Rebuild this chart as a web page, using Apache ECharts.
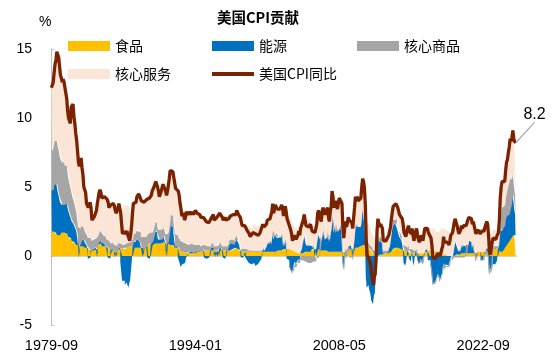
<!DOCTYPE html>
<html><head><meta charset="utf-8">
<script src="https://cdn.jsdelivr.net/npm/echarts@6/dist/echarts.min.js"></script>
<style>html,body{margin:0;padding:0;background:#fff}#c{width:558px;height:361px}</style>
</head><body><div id="c"></div>
<script>
// Monthly data, 1979-09 .. 2022-09 (517 months)
const startYear = 1979, startMonth = 9, monthCount = 517;
const tickLabels = ['1979-09', '1994-01', '2008-05', '2022-09'];
const yTicks = [-5, 0, 5, 10, 15];

// US CPI YoY (%)
const cpi = [
12.2,12.1,12.6,13.3,
13.9,14.2,14.8,14.7,14.4,14.4,13.1,12.9,12.6,12.8,12.6,12.5,
11.8,11.4,10.5,10.0,9.8,9.6,10.8,10.8,11.0,10.1,9.6,8.9,
8.4,7.6,6.8,6.5,6.7,7.1,6.4,5.9,5.0,5.1,4.6,3.8,
3.7,3.5,3.6,3.9,3.5,2.6,2.5,2.6,2.9,2.9,3.3,3.8,
4.2,4.6,4.8,4.6,4.2,4.2,4.2,4.3,4.3,4.3,4.1,3.9,
3.5,3.5,3.7,3.7,3.8,3.8,3.6,3.3,3.1,3.2,3.5,3.8,
3.9,3.1,2.3,1.6,1.5,1.8,1.6,1.6,1.8,1.5,1.3,1.1,
1.5,2.1,3.0,3.8,3.9,3.7,3.9,4.3,4.4,4.5,4.5,4.4,
4.0,3.9,3.9,3.9,3.9,4.0,4.1,4.0,4.2,4.2,4.2,4.4,
4.7,4.8,5.0,5.1,5.4,5.2,5.0,4.7,4.3,4.5,4.7,4.6,
5.2,5.3,5.2,4.7,4.4,4.7,4.8,5.6,6.2,6.3,6.3,6.1,
5.7,5.3,4.9,4.9,5.0,4.7,4.4,3.8,3.4,2.9,3.0,3.1,
2.6,2.8,3.2,3.2,3.0,3.1,3.2,3.1,3.0,3.2,3.0,2.9,
3.3,3.2,3.1,3.2,3.2,3.0,2.8,2.8,2.7,2.8,2.7,2.7,
2.5,2.5,2.5,2.4,2.3,2.5,2.8,2.9,3.0,2.6,2.7,2.7,
2.8,2.9,2.9,3.1,3.2,3.0,2.8,2.6,2.5,2.8,2.6,2.5,
2.7,2.7,2.8,2.9,2.9,2.8,3.0,2.9,3.0,3.0,3.3,3.3,
3.0,3.0,2.8,2.5,2.2,2.3,2.2,2.2,2.2,2.1,1.8,1.7,
1.6,1.4,1.4,1.4,1.7,1.7,1.7,1.6,1.5,1.5,1.5,1.6,
1.7,1.6,1.7,2.3,2.1,2.0,2.1,2.3,2.6,2.6,2.6,2.7,
2.7,3.2,3.8,3.1,3.2,3.7,3.7,3.4,3.5,3.4,3.4,3.4,
3.7,3.5,2.9,3.3,3.6,3.2,2.7,2.7,2.6,2.1,1.9,1.6,
1.1,1.1,1.5,1.6,1.2,1.1,1.5,1.8,1.5,2.0,2.2,2.4,
2.6,3.0,3.0,2.2,2.1,2.1,2.1,2.2,2.3,2.0,1.8,1.9,
1.9,1.7,1.7,2.3,3.1,3.3,3.0,2.7,2.5,3.2,3.5,3.3,
3.0,3.0,3.1,3.5,2.8,2.5,3.2,3.6,4.7,4.3,3.5,3.4,
4.0,3.6,3.4,3.5,4.2,4.3,4.1,3.8,2.1,1.3,2.0,2.5,
2.1,2.4,2.8,2.6,2.7,2.7,2.4,2.0,2.8,3.5,4.3,4.1,
4.3,4.0,4.0,3.9,4.2,5.0,5.6,5.4,4.9,3.7,1.1,0.1,
0.0,0.2,-0.4,-0.7,-1.3,-1.4,-2.1,-1.5,-1.3,-0.2,1.8,2.7,
2.6,2.1,2.3,2.2,2.0,1.1,1.2,1.1,1.1,1.2,1.1,1.5,
1.6,2.1,2.7,3.2,3.6,3.6,3.6,3.8,3.9,3.5,3.4,3.0,
2.9,2.9,2.7,2.3,1.7,1.7,1.4,1.7,2.0,2.2,1.8,1.7,
1.6,2.0,1.5,1.1,1.4,1.8,2.0,1.5,1.2,1.0,1.2,1.5,
1.6,1.1,1.5,2.0,2.1,2.1,2.0,1.7,1.7,1.7,1.3,0.8,
-0.1,0.0,-0.1,-0.2,0.0,0.1,0.2,0.2,0.0,0.2,0.5,0.7,
1.4,1.0,0.9,1.1,1.0,1.0,0.8,1.1,1.5,1.6,1.7,2.1,
2.5,2.7,2.4,2.2,1.9,1.6,1.7,1.9,2.2,2.0,2.2,2.1,
2.1,2.2,2.4,2.5,2.8,2.9,2.9,2.7,2.3,2.5,2.2,1.9,
1.6,1.5,1.9,2.0,1.8,1.6,1.8,1.7,1.7,1.8,2.1,2.3,
2.5,2.3,1.5,0.3,0.1,0.6,1.0,1.3,1.4,1.2,1.2,1.4,
1.4,1.7,2.6,4.2,5.0,5.4,5.4,5.3,5.4,6.2,6.8,7.0,
7.5,7.9,8.5,8.3,8.6,9.1,8.5,8.3,8.2
];

// contribution of food (pp)
const food = [
1.7,1.7,1.8,1.8,
1.7,1.6,1.6,1.5,1.5,1.5,1.6,1.7,1.7,1.8,1.8,1.7,
1.6,1.6,1.5,1.4,1.3,1.3,1.2,1.1,1.0,1.0,0.9,0.8,
0.8,0.8,0.8,0.7,0.7,0.7,0.7,0.7,0.7,0.7,0.6,0.6,
0.6,0.5,0.5,0.5,0.4,0.4,0.4,0.4,0.4,0.5,0.5,0.7,
0.8,0.9,0.9,0.8,0.7,0.7,0.7,0.7,0.7,0.6,0.6,0.6,
0.5,0.4,0.4,0.4,0.4,0.3,0.3,0.3,0.3,0.3,0.4,0.4,
0.5,0.5,0.5,0.5,0.5,0.5,0.6,0.6,0.6,0.6,0.7,0.7,
0.7,0.7,0.7,0.7,0.7,0.6,0.6,0.6,0.6,0.6,0.6,0.6,
0.6,0.6,0.6,0.6,0.6,0.6,0.7,0.8,0.8,0.9,0.9,0.9,
0.8,0.8,0.9,0.9,0.9,0.9,0.9,0.9,0.9,0.9,0.9,0.9,
1.0,1.0,0.9,0.9,0.9,0.9,0.9,0.8,0.8,0.8,0.8,0.8,
0.7,0.6,0.6,0.6,0.6,0.6,0.5,0.4,0.3,0.3,0.3,0.3,
0.2,0.2,0.2,0.2,0.2,0.2,0.2,0.2,0.2,0.2,0.2,0.2,
0.2,0.2,0.2,0.3,0.3,0.3,0.3,0.3,0.4,0.4,0.4,0.4,
0.4,0.4,0.4,0.4,0.4,0.4,0.4,0.4,0.4,0.4,0.4,0.4,
0.4,0.4,0.4,0.4,0.4,0.4,0.4,0.4,0.4,0.4,0.4,0.4,
0.4,0.4,0.4,0.4,0.4,0.4,0.5,0.5,0.6,0.6,0.6,0.6,
0.5,0.4,0.4,0.3,0.3,0.3,0.3,0.3,0.3,0.3,0.3,0.3,
0.3,0.3,0.3,0.3,0.3,0.3,0.3,0.3,0.3,0.3,0.3,0.3,
0.3,0.3,0.3,0.3,0.3,0.3,0.3,0.3,0.3,0.3,0.3,0.3,
0.3,0.3,0.3,0.3,0.3,0.3,0.3,0.3,0.4,0.4,0.4,0.4,
0.4,0.4,0.4,0.5,0.5,0.5,0.5,0.5,0.5,0.5,0.5,0.4,
0.4,0.4,0.3,0.3,0.3,0.3,0.2,0.2,0.2,0.2,0.2,0.2,
0.2,0.2,0.2,0.3,0.3,0.3,0.3,0.3,0.3,0.4,0.5,0.5,
0.5,0.5,0.5,0.5,0.5,0.5,0.5,0.5,0.4,0.4,0.4,0.4,
0.4,0.4,0.4,0.4,0.3,0.3,0.3,0.3,0.3,0.3,0.3,0.3,
0.3,0.3,0.3,0.3,0.3,0.3,0.3,0.3,0.3,0.3,0.3,0.3,
0.4,0.4,0.4,0.5,0.5,0.5,0.5,0.6,0.6,0.6,0.6,0.6,
0.6,0.6,0.6,0.7,0.7,0.7,0.8,0.8,0.8,0.8,0.8,0.8,
0.7,0.6,0.5,0.4,0.3,0.2,0.1,0.0,0.0,0.0,0.0,0.0,
0.0,0.0,0.1,0.1,0.1,0.1,0.1,0.1,0.2,0.2,0.2,0.2,
0.2,0.3,0.4,0.4,0.5,0.5,0.5,0.6,0.6,0.6,0.6,0.6,
0.6,0.5,0.5,0.4,0.4,0.4,0.3,0.3,0.3,0.2,0.2,0.2,
0.2,0.2,0.2,0.2,0.2,0.2,0.2,0.2,0.2,0.2,0.2,0.2,
0.2,0.2,0.2,0.2,0.3,0.3,0.3,0.4,0.4,0.4,0.4,0.4,
0.4,0.4,0.4,0.4,0.3,0.3,0.3,0.2,0.2,0.2,0.2,0.1,
0.1,0.1,0.1,0.1,0.1,0.0,0.0,0.0,0.0,0.0,0.0,0.0,
0.0,0.0,0.1,0.1,0.1,0.1,0.1,0.2,0.2,0.2,0.2,0.2,
0.2,0.2,0.2,0.2,0.2,0.2,0.2,0.2,0.2,0.2,0.2,0.2,
0.2,0.3,0.3,0.3,0.3,0.3,0.3,0.3,0.3,0.3,0.3,0.3,
0.3,0.3,0.3,0.5,0.6,0.6,0.6,0.6,0.5,0.5,0.5,0.5,
0.5,0.4,0.5,0.3,0.3,0.3,0.5,0.5,0.6,0.7,0.8,0.9,
1.0,1.1,1.2,1.3,1.4,1.4,1.5,1.6,1.5
];

// contribution of energy (pp)
const energy = [
3.1,3.0,3.1,3.4,
3.5,3.6,3.6,3.3,3.0,2.7,2.3,2.2,2.0,2.0,2.0,2.0,
2.1,2.2,2.1,1.9,1.8,1.6,1.5,1.4,1.4,1.3,1.3,1.2,
1.0,0.6,0.0,-0.2,0.1,0.4,0.5,0.5,0.4,0.4,0.3,0.2,
0.1,-0.2,-0.3,-0.1,0.0,0.0,0.1,0.1,0.2,0.1,0.1,-0.1,
0.0,0.1,0.3,0.3,0.3,0.2,0.2,0.2,0.1,0.1,0.0,-0.1,
-0.2,-0.2,0.0,0.1,0.1,0.1,0.0,-0.1,-0.1,0.0,0.1,0.2,
0.1,-0.4,-1.1,-1.8,-1.9,-1.8,-2.1,-2.1,-1.9,-2.1,-2.3,-2.3,
-1.7,-1.0,-0.2,0.4,0.5,0.4,0.5,0.6,0.5,0.5,0.4,0.3,
0.0,0.0,-0.1,0.0,0.0,0.0,0.0,-0.1,-0.1,-0.2,-0.1,0.0,
0.2,0.3,0.5,0.9,1.0,0.8,0.6,0.3,0.2,0.3,0.4,0.3,
0.6,0.5,0.3,0.0,-0.1,0.0,0.1,0.7,1.2,1.4,1.4,1.3,
1.0,0.5,0.1,0.0,0.1,-0.1,-0.2,-0.5,-0.8,-0.9,-0.6,-0.5,
-0.5,-0.4,-0.2,-0.1,0.0,0.1,0.1,0.1,0.1,0.1,0.1,0.0,
0.2,0.2,0.1,0.1,0.1,0.0,0.0,0.0,0.0,0.1,-0.1,-0.2,
-0.2,-0.2,-0.1,-0.1,-0.1,0.0,0.2,0.3,0.2,-0.1,0.0,-0.1,
0.0,-0.1,-0.1,0.1,0.3,0.2,0.0,-0.1,-0.1,-0.2,-0.2,0.0,
0.2,0.2,0.4,0.6,0.6,0.5,0.4,0.3,0.4,0.5,0.6,0.6,
0.5,0.4,0.1,-0.1,-0.2,-0.1,-0.1,0.0,-0.1,-0.1,-0.3,-0.4,
-0.5,-0.6,-0.6,-0.6,-0.5,-0.5,-0.6,-0.7,-0.7,-0.6,-0.6,-0.7,
-0.4,-0.4,-0.2,0.2,0.2,0.1,0.2,0.4,0.6,0.6,0.6,0.7,
0.5,1.0,1.6,0.9,1.0,1.4,1.4,1.0,1.0,0.9,0.9,0.9,
1.2,0.9,0.3,0.4,0.7,0.4,-0.2,-0.2,-0.3,-0.8,-1.0,-1.0,
-1.2,-1.1,-0.6,-0.4,-0.6,-0.7,-0.3,-0.2,-0.2,0.3,0.3,0.7,
1.0,1.5,1.5,0.6,0.4,0.6,0.4,0.6,0.6,0.3,0.1,0.3,
0.1,-0.1,-0.2,0.5,1.2,1.3,0.9,0.7,0.7,1.2,1.5,1.2,
0.8,0.9,1.0,1.4,0.8,0.7,1.3,1.6,2.6,2.3,1.4,1.3,
2.1,1.7,1.4,1.5,2.0,2.0,1.7,1.3,-0.3,-1.0,-0.4,0.3,
-0.2,0.1,0.3,0.2,0.3,0.3,0.1,-0.3,0.3,1.0,1.8,1.5,
1.8,1.5,1.5,1.4,1.6,2.3,2.6,2.1,1.7,0.8,-1.5,-2.3,
-2.4,-2.1,-2.5,-2.7,-3.2,-3.1,-3.5,-2.9,-2.7,-1.5,0.6,1.6,
1.5,1.0,1.1,1.0,0.8,0.1,0.2,0.1,0.0,0.1,0.1,0.4,
0.5,0.9,1.3,1.7,1.9,1.8,1.8,1.7,1.8,1.3,1.2,0.8,
0.7,0.7,0.5,0.2,-0.5,-0.5,-0.7,-0.3,0.0,0.3,-0.2,-0.3,
-0.4,0.1,-0.3,-0.7,-0.3,0.1,0.3,-0.2,-0.4,-0.6,-0.5,-0.2,
-0.1,-0.6,-0.2,0.2,0.2,0.2,0.1,-0.3,-0.3,-0.3,-0.7,-1.2,
-2.0,-1.9,-1.9,-2.0,-1.7,-1.5,-1.3,-1.5,-1.8,-1.7,-1.4,-1.2,
-0.5,-0.9,-0.9,-0.6,-0.7,-0.7,-0.8,-0.6,-0.2,0.0,-0.1,0.4,
0.8,1.1,0.8,0.7,0.4,0.2,0.2,0.4,0.7,0.4,0.7,0.5,
0.4,0.6,0.5,0.6,0.9,0.9,0.9,0.8,0.4,0.7,0.2,0.0,
-0.4,-0.4,0.0,0.1,0.0,-0.3,-0.2,-0.3,-0.4,-0.3,0.0,0.3,
0.4,0.2,-0.4,-1.2,-1.3,-0.9,-0.8,-0.6,-0.5,-0.6,-0.7,-0.5,
-0.3,0.2,0.8,1.5,1.7,1.5,1.5,1.6,1.6,2.0,2.2,2.0,
2.0,1.9,2.4,2.3,2.6,3.1,2.5,1.8,1.5
];

// contribution of core goods (pp)
const coreGoods = [
2.9,2.9,3.0,3.1,
3.1,3.2,3.2,3.3,3.3,3.3,3.2,3.1,3.1,3.0,3.0,2.9,
2.8,2.7,2.6,2.4,2.3,2.2,2.1,2.0,1.8,1.7,1.6,1.5,
1.4,1.3,1.3,1.3,1.2,1.1,1.0,0.9,0.9,0.8,0.8,0.8,
0.8,0.8,0.8,0.8,0.8,0.7,0.7,0.7,0.7,0.7,0.7,0.7,
0.7,0.7,0.7,0.7,0.7,0.7,0.6,0.6,0.6,0.6,0.6,0.6,
0.6,0.6,0.5,0.5,0.5,0.5,0.5,0.5,0.5,0.4,0.4,0.4,
0.4,0.4,0.4,0.3,0.3,0.3,0.3,0.3,0.3,0.3,0.3,0.3,
0.3,0.4,0.5,0.6,0.6,0.6,0.7,0.7,0.7,0.8,0.8,0.8,
0.8,0.8,0.8,0.8,0.8,0.8,0.8,0.8,0.8,0.8,0.8,0.8,
0.7,0.7,0.7,0.7,0.7,0.7,0.7,0.7,0.7,0.7,0.7,0.7,
0.7,0.7,0.7,0.7,0.7,0.7,0.7,0.7,0.7,0.8,0.8,0.8,
0.9,0.9,0.9,0.9,0.8,0.8,0.8,0.8,0.8,0.7,0.7,0.7,
0.7,0.7,0.7,0.7,0.6,0.6,0.6,0.6,0.6,0.6,0.6,0.6,
0.5,0.5,0.5,0.5,0.5,0.5,0.4,0.4,0.4,0.4,0.4,0.4,
0.3,0.3,0.3,0.3,0.3,0.3,0.3,0.3,0.3,0.3,0.3,0.3,
0.4,0.4,0.4,0.4,0.4,0.4,0.3,0.3,0.3,0.3,0.3,0.3,
0.3,0.3,0.3,0.3,0.3,0.3,0.3,0.3,0.3,0.3,0.3,0.3,
0.2,0.2,0.2,0.2,0.2,0.2,0.2,0.2,0.2,0.2,0.2,0.2,
0.1,0.1,0.1,0.1,0.1,0.1,0.1,0.1,0.1,0.1,0.1,0.1,
0.1,0.1,0.1,0.1,0.1,0.1,0.1,0.1,0.1,0.1,0.1,0.1,
0.1,0.1,0.1,0.1,0.1,0.1,0.1,0.1,0.1,0.1,0.1,0.1,
0.1,0.1,0.1,0.1,0.1,0.0,0.0,0.0,0.0,0.0,0.0,0.0,
-0.1,-0.1,-0.1,-0.2,-0.2,-0.2,-0.2,-0.2,-0.3,-0.3,-0.3,-0.3,
-0.3,-0.3,-0.4,-0.4,-0.4,-0.5,-0.5,-0.5,-0.5,-0.4,-0.4,-0.4,
-0.3,-0.3,-0.2,-0.2,-0.1,-0.1,-0.1,0.0,0.0,0.0,0.0,0.0,
0.0,0.0,0.0,0.1,0.1,0.1,0.1,0.1,0.1,0.1,0.1,0.1,
0.0,0.0,0.0,0.0,0.0,0.0,0.0,0.0,0.0,0.0,0.0,0.0,
0.0,0.0,0.0,0.0,-0.1,-0.1,-0.1,-0.1,0.0,0.0,0.0,0.0,
0.0,0.0,0.0,0.0,0.0,0.1,0.1,0.2,0.2,0.2,0.2,0.2,
0.3,0.3,0.3,0.3,0.4,0.4,0.3,0.4,0.4,0.4,0.3,0.3,
0.3,0.3,0.3,0.3,0.3,0.2,0.2,0.2,0.2,0.2,0.1,0.1,
0.1,0.1,0.1,0.2,0.2,0.3,0.3,0.4,0.4,0.4,0.4,0.4,
0.4,0.4,0.4,0.4,0.4,0.4,0.4,0.3,0.3,0.3,0.3,0.3,
0.3,0.3,0.2,0.2,0.1,0.1,0.1,0.1,0.0,0.0,0.0,0.0,
0.0,0.0,0.0,0.0,0.0,0.0,0.0,0.0,0.0,0.0,0.0,0.0,
-0.1,-0.1,-0.1,-0.1,-0.1,-0.1,-0.1,-0.1,-0.1,-0.1,-0.1,-0.1,
-0.1,-0.1,-0.1,-0.1,-0.1,-0.1,-0.1,-0.1,-0.1,-0.1,-0.2,-0.2,
-0.1,-0.1,-0.1,-0.1,-0.1,-0.1,-0.1,-0.1,-0.1,-0.1,-0.1,-0.1,
-0.1,-0.1,0.0,0.0,0.0,0.0,0.0,0.0,0.0,0.0,0.0,0.0,
0.0,0.0,0.0,0.0,0.0,0.0,0.0,0.0,0.0,0.0,0.0,0.0,
-0.1,0.0,-0.1,-0.2,-0.2,-0.1,-0.1,0.1,0.2,0.2,0.3,0.3,
0.2,0.1,0.2,0.8,1.3,1.7,1.6,1.5,1.5,1.6,1.8,2.0,
2.3,2.4,2.3,1.9,1.7,1.7,1.5,1.5,1.4
];

// contribution of core services (pp)
const coreServices = [
4.5,4.5,4.7,5.0,
5.6,5.8,6.4,6.6,6.6,6.9,6.0,5.9,5.8,6.0,5.8,5.9,
5.3,4.9,4.3,4.3,4.4,4.5,6.0,6.3,6.8,6.1,5.8,5.4,
5.2,4.9,4.7,4.7,4.7,4.9,4.2,3.8,3.0,3.2,2.9,2.2,
2.2,2.4,2.6,2.7,2.3,1.5,1.3,1.4,1.6,1.6,2.0,2.5,
2.7,2.9,2.9,2.8,2.5,2.6,2.7,2.8,2.9,3.0,2.9,2.8,
2.6,2.7,2.8,2.7,2.8,2.9,2.8,2.6,2.4,2.5,2.6,2.8,
2.9,2.6,2.5,2.6,2.6,2.8,2.8,2.8,2.8,2.7,2.6,2.4,
2.2,2.0,2.0,2.1,2.1,2.1,2.1,2.4,2.6,2.6,2.7,2.7,
2.6,2.5,2.6,2.5,2.5,2.6,2.6,2.5,2.7,2.7,2.6,2.7,
3.0,3.0,2.9,2.6,2.8,2.8,2.8,2.8,2.5,2.6,2.7,2.7,
2.9,3.1,3.3,3.1,2.9,3.1,3.1,3.4,3.5,3.3,3.3,3.2,
3.1,3.3,3.3,3.4,3.5,3.4,3.3,3.1,3.1,2.8,2.6,2.6,
2.2,2.3,2.5,2.4,2.2,2.2,2.3,2.2,2.1,2.3,2.1,2.1,
2.4,2.3,2.3,2.3,2.3,2.2,2.1,2.1,1.9,1.9,2.0,2.1,
2.0,2.0,1.9,1.8,1.7,1.8,1.9,1.9,2.1,2.0,2.0,2.1,
2.0,2.2,2.2,2.2,2.1,2.0,2.1,2.0,1.9,2.3,2.1,1.8,
1.8,1.8,1.7,1.6,1.6,1.6,1.8,1.8,1.7,1.6,1.8,1.8,
1.8,2.0,2.1,2.1,1.9,1.9,1.8,1.7,1.8,1.7,1.6,1.6,
1.7,1.6,1.6,1.6,1.8,1.8,1.9,1.9,1.8,1.7,1.7,1.9,
1.7,1.6,1.5,1.7,1.5,1.5,1.5,1.5,1.6,1.6,1.6,1.6,
1.8,1.8,1.8,1.8,1.8,1.9,1.9,2.0,2.0,2.0,2.0,2.0,
2.0,2.1,2.1,2.3,2.3,2.3,2.4,2.4,2.4,2.4,2.4,2.2,
2.0,1.9,1.9,1.9,1.7,1.7,1.8,2.0,1.8,1.8,2.0,1.8,
1.7,1.6,1.7,1.7,1.8,1.7,1.9,1.8,1.9,1.7,1.6,1.5,
1.6,1.6,1.6,1.5,1.5,1.6,1.7,1.5,1.4,1.6,1.6,1.7,
1.8,1.7,1.7,1.6,1.6,1.4,1.5,1.6,1.7,1.6,1.7,1.7,
1.6,1.6,1.7,1.7,1.9,2.0,2.1,2.2,2.1,2.0,2.1,1.9,
1.9,1.9,2.1,1.9,2.0,2.0,1.9,1.8,1.9,1.9,1.9,2.0,
1.9,1.9,1.9,1.8,1.9,1.9,2.1,2.3,2.2,1.9,1.6,1.4,
1.4,1.4,1.3,1.3,1.2,1.1,1.0,1.0,1.0,0.9,0.9,0.8,
0.8,0.8,0.8,0.8,0.8,0.7,0.7,0.7,0.7,0.7,0.7,0.8,
0.8,0.8,0.9,0.9,1.0,1.0,1.0,1.1,1.1,1.2,1.2,1.2,
1.2,1.3,1.3,1.3,1.4,1.4,1.4,1.4,1.4,1.4,1.5,1.5,
1.5,1.4,1.4,1.4,1.4,1.4,1.4,1.4,1.4,1.4,1.5,1.5,
1.5,1.5,1.5,1.6,1.6,1.6,1.6,1.6,1.6,1.6,1.6,1.6,
1.6,1.6,1.5,1.5,1.5,1.4,1.3,1.6,1.7,1.8,1.8,1.9,
1.9,1.9,1.8,1.7,1.7,1.8,1.7,1.8,1.8,1.7,2.0,1.9,
1.8,1.7,1.6,1.5,1.5,1.4,1.5,1.4,1.4,1.5,1.4,1.5,
1.6,1.5,1.7,1.7,1.7,1.8,1.8,1.7,1.7,1.6,1.8,1.7,
1.8,1.6,1.6,1.6,1.5,1.6,1.7,1.7,1.8,1.8,1.8,1.7,
1.9,1.8,1.7,1.2,1.0,1.0,1.3,1.2,1.2,1.1,1.1,1.1,
1.0,1.0,1.1,1.6,1.7,1.9,1.8,1.7,1.7,1.9,2.0,2.1,
2.2,2.5,2.6,2.8,2.9,2.9,3.0,3.4,3.8
];

const seriesNames = ['食品', '能源', '核心商品', '核心服务', '美国CPI同比'];
const seriesColors = ['#FFC000', '#0070C0', '#A5A5A5', '#FBE5D6', '#7B2300'];

// month labels for the category axis
const categories = [];
for (let i = 0; i < monthCount; i++) {
  const m = startMonth - 1 + i;
  categories.push((startYear + Math.floor(m / 12)) + '-' + String(m % 12 + 1).padStart(2, '0'));
}
const labelStep = 160;

const FONT = '"Liberation Sans", Arial, "Noto Sans CJK SC", sans-serif';
const CJK = '"Noto Sans CJK SC", "Liberation Sans", sans-serif';

// stacked monthly columns drawn as step areas (no gaps between months)
const stackSeries = [food, energy, coreGoods, coreServices].map((arr, k) => ({
  name: seriesNames[k], type: 'line', stack: 'total', stackStrategy: 'samesign',
  step: 'middle', symbol: 'none', showSymbol: false,
  itemStyle: { color: seriesColors[k] },
  lineStyle: { width: 0, opacity: 0 },
  areaStyle: { color: seriesColors[k], opacity: 1 },
  emphasis: { disabled: true },
  z: 2 + k * 0.01,
  data: arr
}));

const lastIdx = cpi.length - 1;
const cpiData = cpi.map((v, i) => i === lastIdx ? {
  value: v,
  symbol: 'circle', symbolSize: 1,
  label: { show: true, position: 'top', distance: 2, fontSize: 16, color: '#000', fontFamily: FONT },
  labelLine: { show: true, lineStyle: { color: '#A6A6A6', width: 1.2 } }
} : v);

const legendCommon = { icon: 'rect', itemWidth: 42, itemHeight: 10, padding: 0,
  textStyle: { fontSize: 14, color: '#000', fontFamily: CJK }, selectedMode: false };

const option = {
  animation: false,
  backgroundColor: '#fff',
  title: [
    { text: '美国CPI贡献', left: 212, top: 5,
      textStyle: { fontSize: 14.5, fontWeight: 'bold', color: '#000', fontFamily: CJK } },
    { text: '%', left: 34, top: 10,
      textStyle: { fontSize: 14, fontWeight: 'normal', color: '#000', fontFamily: FONT } }
  ],
  legend: [
    Object.assign({ data: [seriesNames[0]], left: 68, top: 39 }, legendCommon),
    Object.assign({ data: [seriesNames[1]], left: 212, top: 39 }, legendCommon),
    Object.assign({ data: [seriesNames[2]], left: 357, top: 39 }, legendCommon),
    Object.assign({ data: [seriesNames[3]], left: 68, top: 67 }, legendCommon),
    Object.assign({ data: [seriesNames[4]], left: 212, top: 67 }, legendCommon, { itemHeight: 4 })
  ],
  grid: { left: 51, right: 42, top: 49, bottom: 36, containLabel: false },
  xAxis: [
    { type: 'category', data: categories, boundaryGap: true, position: 'bottom',
      axisLine: { show: false, onZero: false }, axisTick: { show: false },
      axisLabel: { interval: labelStep - 1, margin: 14, fontSize: 14.5, color: '#000', fontFamily: FONT,
        formatter: (v, i) => tickLabels[Math.round(i / labelStep)] || '' },
      splitLine: { show: false } },
    { type: 'category', data: categories, boundaryGap: true, position: 'bottom',
      axisLine: { show: true, onZero: true, lineStyle: { color: '#D9D2C5', width: 2 } },
      axisTick: { show: false }, axisLabel: { show: false }, splitLine: { show: false } }
  ],
  yAxis: {
    type: 'value', min: yTicks[0], max: yTicks[yTicks.length - 1], interval: 5,
    axisLine: { show: true, lineStyle: { color: '#BFBFBF', width: 1 } },
    axisTick: { show: true, inside: true, length: 3, lineStyle: { color: '#BFBFBF' } },
    axisLabel: { margin: 19, fontSize: 14, color: '#000', fontFamily: FONT },
    splitLine: { show: false }
  },
  series: stackSeries.concat([{
    name: seriesNames[4], type: 'line', data: cpiData, z: 5,
    symbol: 'none', showSymbol: true, showAllSymbol: true,
    itemStyle: { color: seriesColors[4] },
    lineStyle: { color: seriesColors[4], width: 3.3 },
    labelLayout: { dx: 19, dy: -18 },
    emphasis: { disabled: true }
  }])
};

const chart = echarts.init(document.getElementById('c'), null, { renderer: 'canvas' });
chart.setOption(option);
</script>
</body></html>
